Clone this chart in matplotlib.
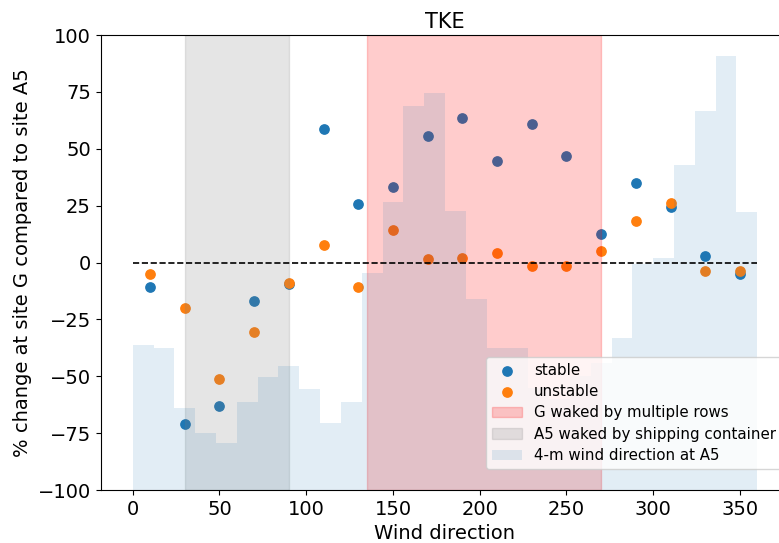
import numpy as np
import matplotlib
matplotlib.use("Agg")
import matplotlib.pyplot as plt

# Wind direction bin centres for the scatter points
directions = [10, 30, 50, 70, 90, 110, 130, 150, 170, 190, 210, 230, 250, 270, 290, 310, 330, 350]
stable = [-10.6, -71.1, -62.9, -17.1, -9.3, 58.7, 25.7, 33.3, 55.7, 63.7, 44.6, 61.0, 46.7, 12.4, 34.8, 24.3, 2.7, -4.9]
unstable = [-5.1, -20.1, -51.1, -30.5, -9.2, 7.7, -10.8, 14.4, 1.5, 2.1, 4.0, -1.4, -1.7, 5.2, 18.2, 26.0, -3.6, -3.6]

# Wind-direction histogram (12-degree bins), bar tops in plot units
hist_edges = list(range(0, 361, 12))
hist_top = [-36.3, -37.7, -64.1, -74.9, -79.2, -61.3, -50.5, -45.5, -55.7, -70.5,
            -61.3, -4.5, 26.5, 68.9, 74.6, 22.8, -16.0, -37.6, -37.6, -55.0,
            -60.0, -50.0, -44.0, -33.3, -0.7, 1.8, 42.9, 66.7, 90.9, 22.2]

g_wake = (135, 270)
a5_wake = (30, 90)

W, H = 779, 543
fig = plt.figure(figsize=(W / 100, H / 100), dpi=100)
x0, x1 = -18.5, 378
ppu = 1.735
left_px = 132.7 + x0 * ppu
width_px = (x1 - x0) * ppu
ax = fig.add_axes([left_px / W, 1 - 490 / H, width_px / W, (490 - 35) / H])

ax.scatter(directions, stable, color='C0', s=45, label='stable', zorder=1)
ax.scatter(directions, unstable, color='C1', s=45, label='unstable', zorder=1)
ax.axvspan(*g_wake, color='red', alpha=0.2, label='G waked by multiple rows')
ax.axvspan(*a5_wake, color='gray', alpha=0.2, label='A5 waked by shipping container')

edges = np.array(hist_edges, dtype=float)
tops = np.array(hist_top)
ax.bar(edges[:-1], tops + 100, width=np.diff(edges), bottom=-100, align='edge',
       color='C0', alpha=0.13, linewidth=0, label='4-m wind direction at A5')

ax.hlines(0, 0, 360, colors='k', linestyles='--', linewidth=1.2, zorder=3)

ax.set_xlim(x0, x1)
ax.set_ylim(-100, 100)
ax.set_xticks([0, 50, 100, 150, 200, 250, 300, 350])
ax.set_yticks([-100, -75, -50, -25, 0, 25, 50, 75, 100])
ax.tick_params(labelsize=14)
ax.set_xlabel('Wind direction', fontsize=14)
ax.set_ylabel('% change at site G compared to site A5', fontsize=14)
ax.set_title('TKE', fontsize=15, pad=5)

leg_right = (782 - left_px) / width_px
leg_bottom = (490 - 469) / 455
ax.legend(loc='lower right', bbox_to_anchor=(leg_right, leg_bottom),
          borderaxespad=0, fontsize=10.8, labelspacing=0.42)

fig.savefig('out.png', dpi=100)
